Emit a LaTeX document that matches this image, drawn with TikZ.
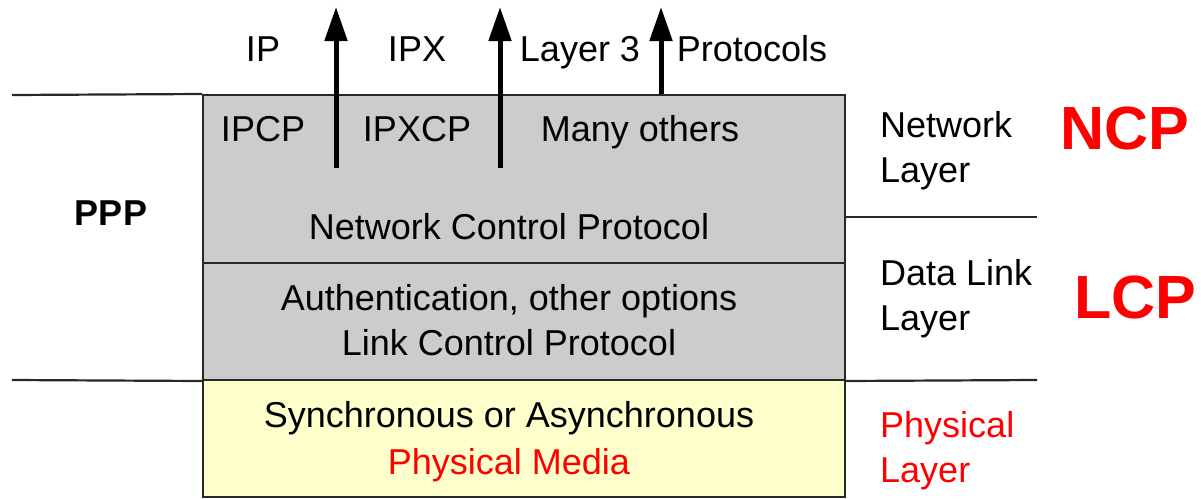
\documentclass[tikz,border=0pt]{standalone}
\usepackage{fontspec}
\setmainfont{Liberation Sans}
\usetikzlibrary{arrows.meta}
\definecolor{boxgray}{RGB}{204,204,204}
\definecolor{boxyellow}{RGB}{255,255,204}
\definecolor{rule}{RGB}{40,40,40}
\definecolor{alert}{RGB}{255,0,0}
\tikzset{
  layerbox/.style={draw=rule, line width=2pt, inner sep=0pt},
  sep/.style={draw=rule, line width=2.2pt},
  txt/.style={font=\fontsize{36}{45}\selectfont, inner sep=0pt, text=black},
  one/.style={txt, text height=26pt, text depth=7.5pt},
  side/.style={txt, anchor=west, align=left},
  big/.style={font=\fontsize{61}{70}\selectfont\bfseries, text=alert, inner sep=0pt},
  uparrow/.style={line width=5pt, -{Triangle[length=34pt,width=22pt]}}
}
\begin{document}
\begin{tikzpicture}[x=1pt,y=-1pt]
\useasboundingbox (0,0) rectangle (1201,498);

% protocol stack
\node[layerbox, fill=boxgray, minimum width=642pt, minimum height=168pt] (ncpbox) at (524,179) {};
\node[layerbox, fill=boxgray, minimum width=642pt, minimum height=117pt] (lcpbox) at (524,321.5) {};
\node[layerbox, fill=boxyellow, minimum width=642pt, minimum height=117pt] (phybox) at (524,438.5) {};

% layer boundaries outside the stack
\coordinate (lt) at (12,95);
\coordinate (lb) at (12,380);
\coordinate (rm) at (1037,217);
\coordinate (rb) at (1037,380);
\draw[sep] (lt) -- (ncpbox.north west);
\draw[sep] (lb) -- (lcpbox.south west);
\draw[sep] (ncpbox.east |- rm) -- (rm);
\draw[sep] (lcpbox.south east) -- (rb);

% texts in the stack
\node[one] (ipcp) at (263,132) {IPCP};
\node[one] (ipxcp) at (417,132) {IPXCP};
\node[one] (many) at (640,132) {Many others};
\node[one] (ncptext) at (509,230) {Network Control Protocol};
\node[txt, align=center] (lcptext) at (509,320) {Authentication, other options\\Link Control Protocol};
\node[txt, align=center] (phytext) at (509,442) {Synchronous or Asynchronous\\[2pt]\textcolor{alert}{Physical Media}};

% upper-layer protocols
\node[one] (ip) at (263,52) {IP};
\node[one] (ipx) at (417,52) {IPX};
\node[one] (l3) at (580,52) {Layer 3};
\node[one] (protos) at (752,52) {Protocols};

\coordinate (a1s) at (336,168);
\coordinate (a1e) at (336,7);
\coordinate (a2s) at (500,168);
\coordinate (a2e) at (500,7);
\coordinate (a3e) at (661,7);
\draw[uparrow] (a1s) -- (a1e);
\draw[uparrow] (a2s) -- (a2e);
\draw[uparrow] (ncpbox.north -| a3e) -- (a3e);

% left label
\node[txt, font=\fontsize{36}{45}\selectfont\bfseries] (ppp) at (111,213) {PPP};

% OSI layer names
\node[side] (netl) at (880,151) {Network\\Layer};
\node[side] (dll) at (880,299) {Data Link\\Layer};
\node[side, text=alert] (phyl) at (880,451) {Physical\\Layer};

% protocol tags
\node[big] (ncp) at (1125,128) {NCP};
\node[big] (lcp) at (1135,297) {LCP};
\end{tikzpicture}
\end{document}
